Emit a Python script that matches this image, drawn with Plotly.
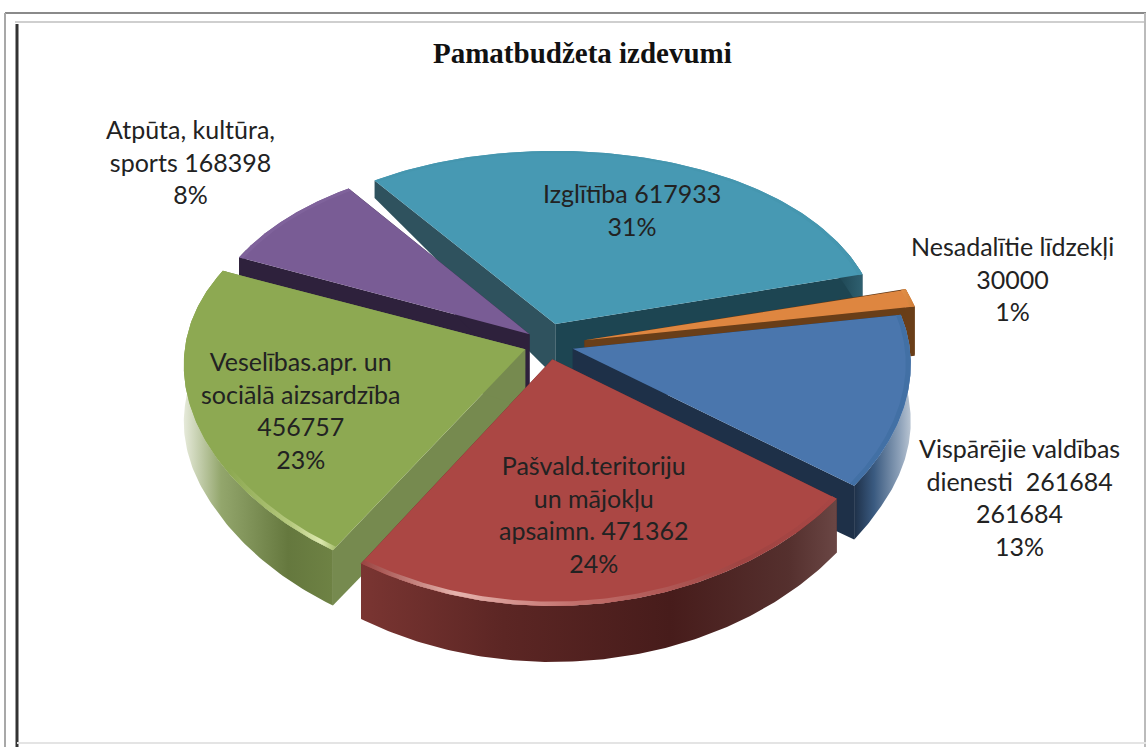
import numpy as np
import plotly.graph_objects as go

# ---- data
categories = ["Izglītība", "Nesadalītie līdzekļi", "Vispārējie valdības dienesti",
              "Pašvald.teritoriju un mājokļu apsaimn.", "Veselības.apr. un sociālā aizsardzība",
              "Atpūta, kultūra, sports"]
values = [617933, 30000, 261684, 471362, 456757, 168398]
percents = ["31%", "1%", "13%", "24%", "23%", "8%"]
label_lines = [
    ["Izglītība 617933"],
    ["Nesadalītie līdzekļi", "30000"],
    ["Vispārējie valdības", "dienesti\u00a0\u00a0261684", "261684"],
    ["Pašvald.teritoriju", "un mājokļu", "apsaimn. 471362"],
    ["Veselības.apr. un", "sociālā aizsardzība", "456757"],
    ["Atpūta, kultūra,", "sports 168398"],
]
title_text = "Pamatbudžeta izdevumi"

# ---- styles
label_xy = [(632, 209), (1012, 278), (1019, 497), (594, 514), (300, 410), (190, 161)]
top_col = ["#4799B3", "#DE8640", "#4A76AD", "#AB4744", "#8DA952", "#795C95"]
start_wall = ["#2F525E", "#5E3716", "#1E3048", "#5E2A28", "#768A4F", "#2E213C"]
end_wall = ["#1D4552", "#693E18", "#1E3048", "#5E2A28", "#768A4F", "#2E213C"]
outer_wall = [
    [[0, "#1D4552"], [1, "#2F6070"]],
    [[0, "#6A3E18"], [1, "#6A3E18"]],
    [[0, "#1E3048"], [0.35, "#3A5A80"], [0.8, "#8CA0B8"], [1, "#B8C4D2"]],
    [[0, "#7A3532"], [0.3, "#5C2624"], [0.65, "#471C1B"], [0.9, "#55302E"], [1, "#6A4644"]],
    [[0, "#E6EADA"], [0.25, "#93A66C"], [0.7, "#65783E"], [1, "#6E8244"]],
    [[0, "#2E213C"], [1, "#2E213C"]],
]
bevel = [
    [[0, "#4596AF"], [1, "#4596AF"]],
    [[0, "#E29048"], [1, "#D07E38"]],
    [[0, "#4270A5"], [1, "#4270A5"]],
    [[0, "#9A4441"], [0.2, "#E6B4AE"], [0.45, "#C2706C"], [0.8, "#A04442"], [1, "#A84644"]],
    [[0, "#8DA952"], [0.3, "#8DA952"], [0.7, "#B6C97E"], [0.9, "#DCE8AE"], [1, "#A5BC6C"]],
    [[0, "#7F629B"], [1, "#7F629B"]],
]
pull_x = [0.065, 0.11, 0.075, 0.07, 0.07, 0.07]
pull_y = [0.11, 0.11, 0.075, 0.07, 0.07, 0.085]
rim_x = [0.96, 1.0, 0.99, 1.0, 1.0, 0.965]
draw_order = [0, 5, 1, 2, 4, 3]
START = -36.0
CX, CY = 548.0, 345.0
A, B, KX, KY = 340.0, 205.0, 0.07, 0.15


def depth(v):
    return np.interp(v, [-1.0, -0.5, 0.0, 0.8, 1.0], [56, 53, 58, 21, 15])


def project(u, v, drop=False):
    X = CX + A * u / (1 + KX * v)
    Y = CY - B * v / (1 + KY * v)
    if drop:
        Y = Y + depth(v)
    return X, Y


def poly(X, Y, name, color=None, scale=None):
    kw = dict(fillgradient=dict(type="horizontal", colorscale=scale)) if scale else dict(fillcolor=color)
    return go.Scatter(x=np.append(X, X[0]), y=np.append(Y, Y[0]), mode="lines", fill="toself",
                      line=dict(width=0, color="rgba(0,0,0,0)"), name=name,
                      hoverinfo="name", showlegend=False, **kw)


fig = go.Figure()
total = float(sum(values))
edges = START + np.concatenate([[0], np.cumsum(values)]) / total * 360.0

for i in draw_order:
    t0, t1 = np.radians(edges[i]), np.radians(edges[i + 1])
    mid = (t0 + t1) / 2
    ox, oy = pull_x[i] * np.sin(mid), pull_y[i] * np.cos(mid)
    rx = rim_x[i]
    th = np.linspace(t0, t1, 120)
    au, av = ox + rx * np.sin(th), oy + np.cos(th)
    # radial walls
    for t, col in ((t0, start_wall[i]), (t1, end_wall[i])):
        uu = np.array([ox, ox + rx * np.sin(t)])
        vv = np.array([oy, oy + np.cos(t)])
        xt, yt = project(uu, vv)
        xb, yb = project(uu, vv, True)
        fig.add_trace(poly(np.r_[xt, xb[::-1]], np.r_[yt, yb[::-1]], categories[i], color=col))
    # outer wall, only the part turned towards the viewer
    vis = np.cos(th) < 0.45
    if vis.sum() > 1:
        xt, yt = project(au[vis], av[vis])
        xb, yb = project(au[vis], av[vis], True)
        fig.add_trace(poly(np.r_[xt, xb[::-1]], np.r_[yt, yb[::-1]], categories[i], scale=outer_wall[i]))
    # top face
    xa, ya = project(au, av)
    x0, y0 = project(np.array([ox]), np.array([oy]))
    fig.add_trace(poly(np.r_[x0, xa], np.r_[y0, ya], categories[i], color=top_col[i]))
    # rim highlight
    iu, iv = ox + 0.985 * rx * np.sin(th), oy + 0.985 * np.cos(th)
    xi, yi = project(iu, iv)
    fig.add_trace(poly(np.r_[xa, xi[::-1]], np.r_[ya, yi[::-1]], categories[i], scale=bevel[i]))

annotations = [dict(x=582, y=53, text="<b>%s</b>" % title_text, showarrow=False, xref="x", yref="y",
                    font=dict(family="Liberation Serif", size=29, color="#111"))]
for lines, pct, (lx, ly) in zip(label_lines, percents, label_xy):
    annotations.append(dict(x=lx, y=ly, text="<br>".join(lines + [pct]), showarrow=False, xref="x", yref="y",
                            align="center", font=dict(family="Lato", size=25, color="#222")))


def frame(x0, y0, x1, y1, col, w):
    return dict(type="line", xref="x", yref="y", x0=x0, y0=y0, x1=x1, y1=y1,
                line=dict(color=col, width=w), layer="above")


shapes = [
    frame(5, 13, 1146, 13, "#8A8A8A", 2),
    frame(5, 13, 5, 747, "#A8A8A8", 2),
    frame(15, 22, 1146, 22, "#CFCFCF", 2),
    frame(17, 24, 17, 747, "#333333", 3),
    frame(1145, 13, 1145, 747, "#BBBBBB", 2),
    frame(17, 743, 1146, 743, "#E4E4E4", 2),
]

fig.update_layout(
    width=1146, height=747, margin=dict(l=0, r=0, t=0, b=0),
    paper_bgcolor="white", plot_bgcolor="white", showlegend=False,
    xaxis=dict(range=[0, 1146], visible=False, fixedrange=True),
    yaxis=dict(range=[747, 0], visible=False, fixedrange=True),
    annotations=annotations, shapes=shapes,
)
fig.write_html("out.html", config={"displayModeBar": False},
               post_script="document.body.style.margin='0';document.documentElement.style.overflow='hidden';")
